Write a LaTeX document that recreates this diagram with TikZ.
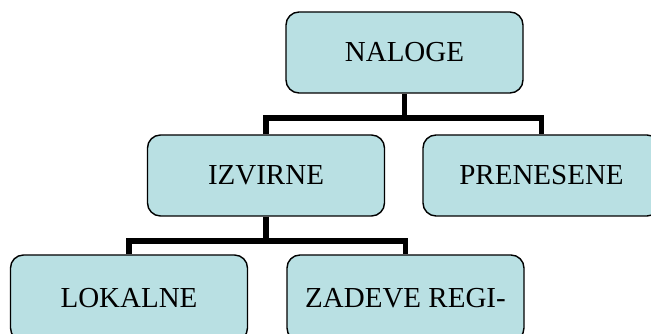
\documentclass[tikz,border=0pt]{standalone}
\usepackage{fontspec}
\setmainfont{Liberation Serif}
\definecolor{boxfill}{RGB}{185,224,227}
\begin{document}
\begin{tikzpicture}[x=1pt,y=1pt,
  box/.style={draw=black, line width=1.4pt, fill=boxfill, rounded corners=13pt,
    minimum width=237pt, minimum height=81pt, inner sep=0pt,
    font=\fontsize{29}{34}\selectfont},
  conn/.style={line width=5.5pt, line join=miter}]
\useasboundingbox (0,0) rectangle (651,334);
\clip (0,0) rectangle (651,334);
\node[box] (nal) at (404.5,281.5) {NALOGE};
\node[box] (izv) at (266,158.5) {IZVIRNE};
\node[box] (pre) at (541.5,158.5) {PRENESENE};
\node[box, minimum height=86pt] (lok) at (129,36) {LOKALNE};
\node[box, minimum height=86pt] (zad) at (405.5,36) {ZADEVE REGI-};
\coordinate (b1) at (404.5,216);
\coordinate (b2) at (266,93);
\draw[conn] (nal.south) -- (b1);
\draw[conn] (izv.north) |- (b1) -| (pre.north);
\draw[conn] (izv.south) -- (b2);
\draw[conn] (lok.north) |- (b2) -| (zad.north);
\end{tikzpicture}
\end{document}
